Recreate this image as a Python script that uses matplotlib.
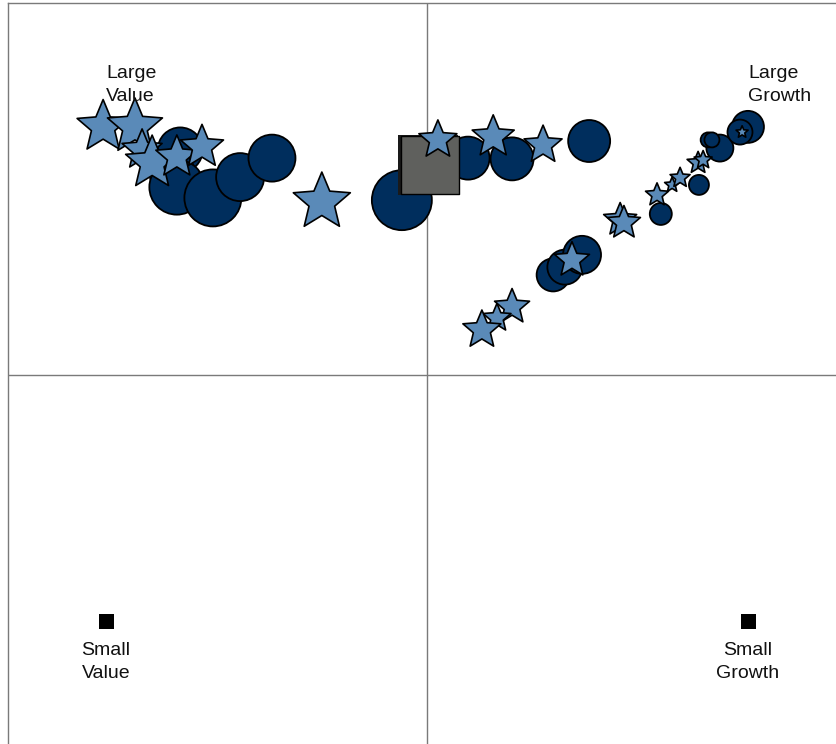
"""Style box: holdings plotted by value/growth and size score."""

import matplotlib
matplotlib.use("Agg")
import matplotlib.pyplot as plt
from matplotlib.path import Path
import numpy as np

# Fund holdings (dark circles): style score, size score, weight
fund_x = [-0.060, 0.098, 0.203, 0.387, 0.301, 0.329, 0.370, 0.558, 0.649, 0.699,
          0.671, 0.680, 0.766, 0.747, -0.589, -0.609, -0.597, -0.511, -0.446, -0.370]
fund_y = [0.470, 0.583, 0.581, 0.629, 0.269, 0.290, 0.323, 0.433, 0.511, 0.610,
          0.632, 0.632, 0.667, 0.653, 0.605, 0.546, 0.505, 0.476, 0.532, 0.583]
fund_w = [60, 43, 43, 42, 33, 35, 38, 22, 20, 27,
          15, 15, 32, 25, 45, 45, 55, 57, 48, 47]

# Benchmark holdings (light stars)
bench_x = [-0.773, -0.697, -0.680, -0.656, -0.597, -0.537, -0.251, 0.026, 0.158, 0.277,
           0.346, 0.203, 0.167, 0.131, 0.461, 0.470, 0.549, 0.585, 0.604, 0.647,
           0.659, 0.752]
bench_y = [0.667, 0.667, 0.605, 0.570, 0.586, 0.613, 0.465, 0.632, 0.640, 0.618,
           0.309, 0.183, 0.153, 0.121, 0.417, 0.409, 0.484, 0.511, 0.530, 0.570,
           0.578, 0.653]
bench_w = [52, 55, 40, 53, 42, 43, 57, 38, 42, 38,
           35, 35, 28, 38, 33, 33, 23, 15, 20, 22,
           18, 12]

# Portfolio centroid
centroid_x = [0.002]
centroid_y = [0.565]

# Style box corners
corner_x = [-0.766, 0.766, -0.766, 0.766]
corner_y = [0.661, 0.661, -0.661, -0.661]
corner_labels = ["Large\nValue", "Large\nGrowth", "Small\nValue", "Small\nGrowth"]

W, H, DPI = 836, 744, 100
PX = 72.0 / DPI  # points per pixel

plt.rcParams["font.family"] = ["Liberation Sans", "DejaVu Sans"]

fig = plt.figure(figsize=(W / DPI, H / DPI), dpi=DPI)
# box runs from x=8..846 px and y=3..747 px, so it is clipped on right/bottom
ax = fig.add_axes([8 / W, -3 / H, 838 / W, 744 / H])
ax.set_xlim(-1, 1)
ax.set_ylim(-1, 1)
ax.set_xticks([])
ax.set_yticks([])
for side in ax.spines.values():
    side.set_color("#7a7a7a")
    side.set_linewidth(1.0)

ax.axvline(0, color="#7a7a7a", lw=1.0, zorder=1)
ax.axhline(0, color="#7a7a7a", lw=1.0, zorder=1)

circle_s = (np.array(fund_w) * PX) ** 2
ax.scatter(fund_x, fund_y, s=circle_s, marker="o", color="#002E5D",
           edgecolor="black", linewidth=1.3, zorder=3)

# centroid square with a dark left edge like the original
ax.scatter(centroid_x, centroid_y, s=(60 * PX) ** 2, marker="s", color="#1a1a1a",
           linewidth=0, zorder=4)
ax.scatter([c + 2 / 419 for c in centroid_x], centroid_y, s=(58 * PX) ** 2,
           marker="s", color="#5F605D", edgecolor="black", linewidth=1.0, zorder=4)

fat_star = Path.unit_regular_star(5, 0.45)
star_s = (np.array(bench_w) / 0.951 * PX) ** 2
ax.scatter(bench_x, bench_y, s=star_s, marker=fat_star, color="#5A8AB8",
           edgecolor="black", linewidth=1.2, zorder=5)

# small-cap corner markers (large ones sit under the stars)
ax.scatter(corner_x[2:], corner_y[2:], s=(15 * PX) ** 2, marker="s", color="black",
           linewidth=0, zorder=3)

for x, y, lab in zip(corner_x, corner_y, corner_labels):
    if y > 0:
        ax.annotate(lab, (x, y), xytext=(0, 17), textcoords="offset points",
                    ha="left", va="bottom", fontsize=14, linespacing=1.5,
                    color="#111111", zorder=6)
    else:
        ax.annotate(lab, (x, y), xytext=(0, -15), textcoords="offset points",
                    ha="center", va="top", fontsize=14, linespacing=1.5,
                    color="#111111", zorder=6)

fig.savefig("out.png", dpi=DPI)
